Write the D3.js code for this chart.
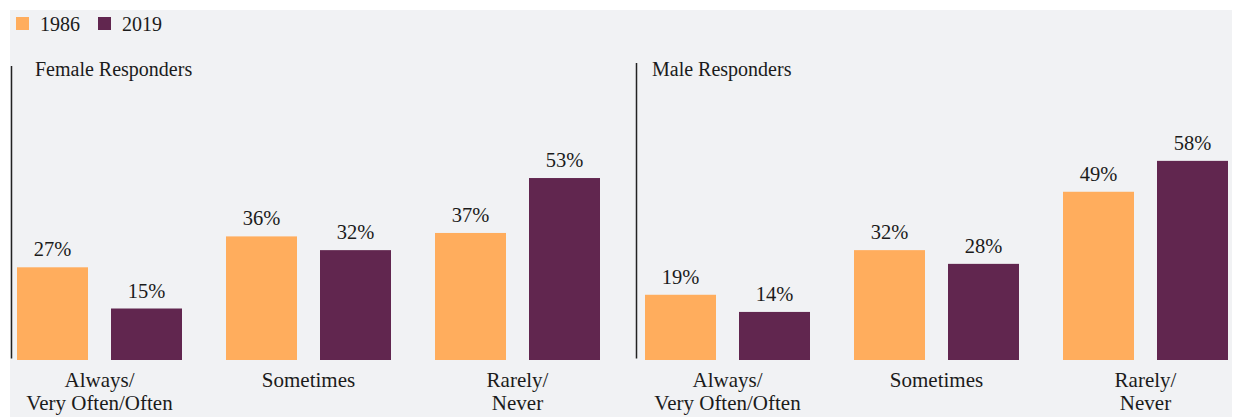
<!DOCTYPE html>
<html>
<head>
<meta charset="utf-8">
<script src="https://cdn.jsdelivr.net/npm/d3@7"></script>
<style>
  html, body { margin: 0; padding: 0; background: #ffffff; }
  svg { display: block; }
</style>
</head>
<body>
<svg id="chart" width="1235" height="417" font-family="'Liberation Serif', 'Times New Roman', Tinos, 'DejaVu Serif', serif"></svg>
<script>
// Survey answers, share of responders (%)
const categories = ["Always/\nVery Often/Often", "Sometimes", "Rarely/\nNever"];
const years = ["1986", "2019"];
const femaleValues1986 = [27, 36, 37];
const femaleValues2019 = [15, 32, 53];
const maleValues1986 = [19, 32, 49];
const maleValues2019 = [14, 28, 58];
const panelTitles = ["Female Responders", "Male Responders"];

const colors = { "1986": "#FFAD5D", "2019": "#61264F" };
const textColor = "#1b1b1b";

const svg = d3.select("#chart");
const W = 1235, H = 417;

// Panel background
svg.append("rect")
  .attr("x", 10).attr("y", 10)
  .attr("width", 1222).attr("height", H - 10)
  .attr("fill", "#F1F2F4");

// Legend
const legend = svg.append("g").attr("transform", "translate(16,17)");
years.forEach((yr, i) => {
  const g = legend.append("g").attr("transform", `translate(${i * 82},0)`);
  g.append("rect").attr("width", 13).attr("height", 13).attr("fill", colors[yr]);
  g.append("text").attr("x", 24).attr("y", 13.5)
    .attr("font-size", 20).attr("fill", textColor).text(yr);
});

const y = d3.scaleLinear().domain([0, 60]).range([360, 154]);

const panels = [
  { title: panelTitles[0], v1986: femaleValues1986, v2019: femaleValues2019, x0: 17, axisX: 11.5, axisTop: 66, titleX: 35 },
  { title: panelTitles[1], v1986: maleValues1986, v2019: maleValues2019, x0: 645, axisX: 636.5, axisTop: 63, titleX: 652 }
];

panels.forEach(p => {
  const g = svg.append("g");

  const x = d3.scaleBand()
    .domain(categories)
    .range([p.x0, p.x0 + 583])
    .paddingInner(44 / 209)
    .paddingOuter(0);

  const xs = d3.scaleBand()
    .domain(years)
    .range([0, x.bandwidth()])
    .paddingInner(23 / 94)
    .paddingOuter(0);

  // Vertical axis line
  g.append("line")
    .attr("x1", p.axisX).attr("x2", p.axisX)
    .attr("y1", p.axisTop).attr("y2", 358.5)
    .attr("stroke", "#222").attr("stroke-width", 1.5);

  // Panel title
  g.append("text")
    .attr("x", p.titleX).attr("y", 76)
    .attr("font-size", 20).attr("fill", textColor)
    .text(p.title);

  const rows = [];
  categories.forEach((c, i) => {
    rows.push({ cat: c, year: "1986", value: p.v1986[i] });
    rows.push({ cat: c, year: "2019", value: p.v2019[i] });
  });

  g.selectAll("rect.bar").data(rows).join("rect")
    .attr("class", "bar")
    .attr("x", d => x(d.cat) + xs(d.year))
    .attr("width", xs.bandwidth())
    .attr("y", d => y(d.value))
    .attr("height", d => y(0) - y(d.value))
    .attr("fill", d => colors[d.year]);

  g.selectAll("text.val").data(rows).join("text")
    .attr("class", "val")
    .attr("x", d => x(d.cat) + xs(d.year) + xs.bandwidth() / 2)
    .attr("y", d => y(d.value) - 11)
    .attr("text-anchor", "middle")
    .attr("font-size", 20.5).attr("fill", textColor)
    .text(d => d.value + "%");

  // Category labels
  categories.forEach(c => {
    const t = g.append("text")
      .attr("x", x(c) + x.bandwidth() / 2)
      .attr("y", 387)
      .attr("text-anchor", "middle")
      .attr("font-size", 21).attr("fill", textColor);
    c.split("\n").forEach((line, k) => {
      t.append("tspan")
        .attr("x", x(c) + x.bandwidth() / 2)
        .attr("dy", k === 0 ? 0 : 23)
        .text(line);
    });
  });
});
</script>
</body>
</html>
